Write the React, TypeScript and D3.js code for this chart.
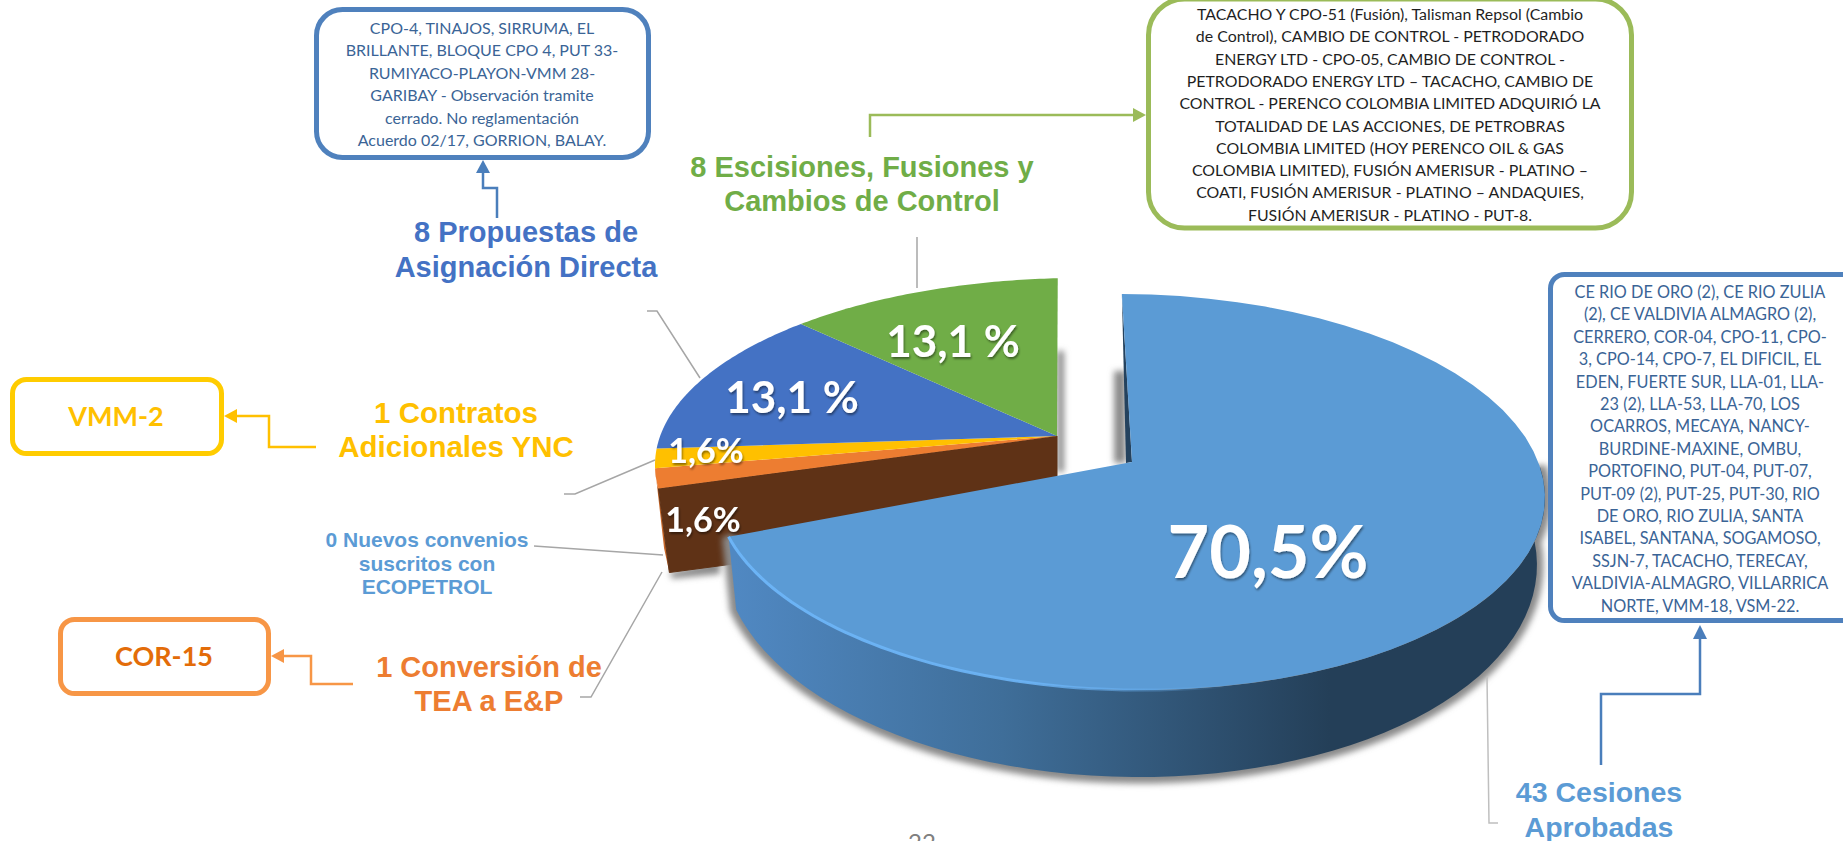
import React from "react";
import * as d3 from "d3";

// slice data, in drawing order (clockwise from the top of the big slice)
const categories = ["Cesiones Aprobadas", "Conversión de TEA a E&P", "Contratos Adicionales YNC", "Propuestas de Asignación Directa", "Escisiones, Fusiones y Cambios de Control", "Nuevos convenios suscritos con ECOPETROL"];
const counts = [43, 1, 1, 8, 8, 0];
const sliceColors = ["#5B9BD5", "#ED7D31", "#FFC000", "#4472C4", "#70AD47", "#5B9BD5"];

const blueBoxLines = ["CPO-4, TINAJOS, SIRRUMA, EL", "BRILLANTE, BLOQUE CPO 4, PUT 33-", "RUMIYACO-PLAYON-VMM 28-", "GARIBAY - Observación tramite", "cerrado. No reglamentación", "Acuerdo 02/17, GORRION, BALAY."];
const greenBoxLines = ["TACACHO Y CPO-51 (Fusión), Talisman Repsol (Cambio", "de Control), CAMBIO DE CONTROL - PETRODORADO", "ENERGY LTD - CPO-05, CAMBIO DE CONTROL -", "PETRODORADO ENERGY LTD – TACACHO, CAMBIO DE", "CONTROL - PERENCO COLOMBIA LIMITED ADQUIRIÓ LA", "TOTALIDAD DE LAS ACCIONES, DE PETROBRAS", "COLOMBIA LIMITED (HOY PERENCO OIL & GAS", "COLOMBIA LIMITED), FUSIÓN AMERISUR - PLATINO –", "COATI, FUSIÓN AMERISUR - PLATINO – ANDAQUIES,", "FUSIÓN AMERISUR - PLATINO - PUT-8."];
const rightBoxLines = ["CE RIO DE ORO (2), CE RIO ZULIA", "(2), CE VALDIVIA ALMAGRO (2),", "CERRERO, COR-04, CPO-11, CPO-", "3, CPO-14, CPO-7, EL DIFICIL, EL", "EDEN, FUERTE SUR, LLA-01, LLA-", "23 (2), LLA-53, LLA-70, LOS", "OCARROS, MECAYA, NANCY-", "BURDINE-MAXINE, OMBU,", "PORTOFINO, PUT-04, PUT-07,", "PUT-09 (2), PUT-25, PUT-30, RIO", "DE ORO, RIO ZULIA, SANTA", "ISABEL, SANTANA, SOGAMOSO,", "SSJN-7, TACACHO, TERECAY,", "VALDIVIA-ALMAGRO, VILLARRICA", "NORTE, VMM-18, VSM-22."];

const deg = Math.PI / 180;
const ARIAL = "'Liberation Sans', Arial, sans-serif";
const BODY = "Lato, 'Open Sans', sans-serif";

type Ell = { cx: number; cy: number; rx: number; ry: number; offset: number; warp: number; tilt: number };

// the pie is a flattened circle in perspective, so angles get nudged a bit
const bigTop: Ell = { cx: 1130, cy: 492, rx: 415, ry: 198, offset: -1.6 * deg, warp: -2.8 * deg, tilt: 1 * deg };
const bigBottom: Ell = { cx: 1130, cy: 560, rx: 407, ry: 217, offset: -1.6 * deg, warp: -2.8 * deg, tilt: 1 * deg };
const restTop: Ell = { cx: 1080, cy: 465, rx: 425, ry: 187, offset: -3 * deg, warp: -12.5 * deg, tilt: 0 };
const bigApex: [number, number] = [1132, 462];
const restApex: [number, number] = [1057, 436];
const restDepth: [number, number] = [11, 84];

const pt = (e: Ell, a: number): [number, number] => {
  const w = a + e.offset + e.warp * Math.sin(a);
  const x0 = e.rx * Math.sin(w);
  const y0 = -e.ry * Math.cos(w);
  return [
    e.cx + x0 * Math.cos(e.tilt) - y0 * Math.sin(e.tilt),
    e.cy + x0 * Math.sin(e.tilt) + y0 * Math.cos(e.tilt),
  ];
};
const arcPts = (e: Ell, a0: number, a1: number) =>
  d3.range(0, 61).map((i) => pt(e, a0 + ((a1 - a0) * i) / 60));

const line = d3.line();
const closed = (pts: [number, number][]) => line(pts) + "Z";
const shift = (p: [number, number], d: [number, number]): [number, number] => [p[0] + d[0], p[1] + d[1]];

const arcs = d3.pie<number>().sort(null).startAngle(0).endAngle(2 * Math.PI)(counts);

const bigArc = arcs[0];
const orangeArc = arcs[1];
const bigWall = closed([
  ...arcPts(bigTop, 85 * deg, bigArc.endAngle),
  ...arcPts(bigBottom, bigArc.endAngle, 85 * deg),
]);
const orangeStart = pt(restTop, orangeArc.startAngle);

function Lines({ lines, x, y, step, size, fill, family = ARIAL, weight = "bold" }: any) {
  return (
    <text textAnchor="middle" fontFamily={family} fontWeight={weight} fontSize={size} fill={fill}>
      {lines.map((l: string, i: number) => (
        <tspan key={i} x={x} y={y + i * step}>{l}</tspan>
      ))}
    </text>
  );
}

function Arrow({ points, color, width = 2.5, head = 13, half = 7 }: any) {
  // elbow connector; last point is the arrow tip
  const n = points.length;
  const tip = points[n - 1];
  const prev = points[n - 2];
  const len = Math.hypot(tip[0] - prev[0], tip[1] - prev[1]);
  const ux = (tip[0] - prev[0]) / len;
  const uy = (tip[1] - prev[1]) / len;
  const base = [tip[0] - ux * head, tip[1] - uy * head];
  const headPts: [number, number][] = [
    tip,
    [base[0] - uy * half, base[1] + ux * half],
    [base[0] + uy * half, base[1] - ux * half],
  ];
  return (
    <g>
      <path d={line([...points.slice(0, n - 1), base]) as string} fill="none" stroke={color} strokeWidth={width} />
      <path d={closed(headPts)} fill={color} />
    </g>
  );
}

function Leader({ points, color = "#a6a6a6" }: any) {
  return <path d={line(points) as string} fill="none" stroke={color} strokeWidth={1.5} />;
}

function Pct({ text, x, y, size }: any) {
  return (
    <text x={x} y={y} textAnchor="middle" fontFamily={BODY} fontWeight="bold" fontSize={size} fill="#fff" filter="url(#textShadow)">
      {text}
    </text>
  );
}

export default function App() {
  return (
    <svg width={1843} height={841} style={{ position: "absolute", left: 0, top: 0, background: "#fff" }}>
      <defs>
        <filter id="blur" x="-20%" y="-20%" width="140%" height="140%">
          <feGaussianBlur stdDeviation={3} />
        </filter>
        <filter id="textShadow" x="-10%" y="-10%" width="120%" height="130%">
          <feDropShadow dx={1} dy={2} stdDeviation={1.2} floodColor="#000" floodOpacity={0.45} />
        </filter>
        <linearGradient id="wallFill" gradientUnits="userSpaceOnUse" x1={735} x2={1330} y1={0} y2={0}>
          <stop offset="0" stopColor="#5088c2" />
          <stop offset="0.45" stopColor="#3f6e99" />
          <stop offset="1" stopColor="#243f58" />
        </linearGradient>
        <linearGradient id="rimFill" gradientUnits="userSpaceOnUse" x1={730} x2={1230} y1={0} y2={0}>
          <stop offset="0" stopColor="#6cb4f6" stopOpacity={1} />
          <stop offset="0.6" stopColor="#6cb4f6" stopOpacity={0.9} />
          <stop offset="1" stopColor="#6cb4f6" stopOpacity={0} />
        </linearGradient>
      </defs>

      {/* shadows behind the small slices */}
      <g filter="url(#blur)" fill="#8a8a8a">
        <path d={closed([[1057, 351], [1064, 351], [1064, 472], [1057, 472]])} />
        <path d={closed([[1114, 371], [1126, 371], [1126, 463], [1114, 463]])} />
        <path d={closed([shift(orangeStart, restDepth), shift(orangeStart, [14, 90]), [720, 574], [720, 560]])} />
      </g>

      {/* side of the small slices */}
      <path
        d={closed([
          ...arcPts(restTop, orangeArc.startAngle, orangeArc.endAngle),
          shift(pt(restTop, orangeArc.endAngle), [9, 80]),
          shift(orangeStart, restDepth),
        ])}
        fill="#c8682a"
      />
      <path
        d={closed([restApex, orangeStart, shift(orangeStart, restDepth), shift(restApex, [0, 85])])}
        fill="#5F3216"
        stroke="#5F3216"
        strokeLinejoin="round"
      />

      {arcs.slice(1).filter((a) => a.value > 0).map((a, i) => (
        <path
          key={categories[i + 1]}
          d={closed([restApex, ...arcPts(restTop, a.startAngle, a.endAngle)])}
          fill={sliceColors[i + 1]}
        />
      ))}

      {/* big slice */}
      <path d={bigWall} fill="#7d7d7d" stroke="#8a8a8a" strokeWidth={13} filter="url(#blur)" />
      <path d={bigWall} fill="url(#wallFill)" />
      <path d={closed([pt(bigTop, 0), bigApex, [1126, 463]])} fill="#24425e" />
      <path
        d={closed([bigApex, ...arcPts(bigTop, bigArc.startAngle, bigArc.endAngle)])}
        fill={sliceColors[0]}
      />
      <path
        d={line(arcPts(bigTop, 160 * deg, bigArc.endAngle)) as string}
        fill="none"
        stroke="url(#rimFill)"
        strokeWidth={3}
      />

      <Pct text="70,5%" x={1268} y={578} size={72} />
      <Pct text="13,1 %" x={953} y={357} size={44} />
      <Pct text="13,1 %" x={792} y={413} size={44} />
      <Pct text="1,6%" x={706} y={463} size={34} />
      <Pct text="1,6%" x={703} y={532} size={34} />

      {/* leader lines */}
      <Leader points={[[917, 237], [917, 288]]} />
      <Leader points={[[647, 311], [657, 311], [700, 378]]} />
      <Leader points={[[564, 494], [575, 494], [655, 460]]} />
      <Leader points={[[534, 546], [663, 555]]} />
      <Leader points={[[580, 697], [591, 697], [662, 572]]} />
      <Leader points={[[1487, 677], [1489, 823], [1498, 823]]} color="#bfbfbf" />

      {/* category titles */}
      <Lines lines={["8 Escisiones, Fusiones y", "Cambios de Control"]} x={862} y={177} step={34} size={29} fill="#70AD47" />
      <Lines lines={["8 Propuestas de", "Asignación Directa"]} x={526} y={242} step={35} size={29} fill="#4472C4" />
      <Lines lines={["1 Contratos", "Adicionales YNC"]} x={456} y={423} step={34} size={29.5} fill="#FFC000" />
      <Lines lines={["0 Nuevos convenios", "suscritos con"]} x={427} y={547} step={24} size={21} fill="#5B9BD5" />
      <Lines lines={["ECOPETROL"]} x={427} y={594} step={0} size={21} fill="#5B9BD5" />
      <Lines lines={["1 Conversión de", "TEA a E&P"]} x={489} y={677} step={34} size={29} fill="#ED7D31" />
      <Lines lines={["43 Cesiones", "Aprobadas"]} x={1599} y={802} step={35} size={28.5} fill="#5B9BD5" />

      {/* boxes */}
      <rect x={316.5} y={9.5} width={332} height={148} rx={26} fill="#fff" stroke="#4F81BD" strokeWidth={5} />
      <Lines lines={blueBoxLines} x={482} y={34} step={22.4} size={16} fill="#3A6496" family={BODY} weight="normal" />

      <rect x={1148.5} y={-1} width={483} height={229} rx={36} fill="#fff" stroke="#9BBB59" strokeWidth={5} />
      <Lines lines={greenBoxLines} x={1390} y={20} step={22.3} size={15.9} fill="#1f1f1f" family={BODY} weight="normal" />

      <rect x={1550.5} y={274.5} width={320} height={346} rx={14} fill="#fff" stroke="#4F81BD" strokeWidth={5} />
      <Lines lines={rightBoxLines} x={1700} y={298} step={22.4} size={16.3} fill="#3A6496" family={BODY} weight="normal" />

      <rect x={12.5} y={379.5} width={209} height={74} rx={14} fill="#fff" stroke="#FFCC00" strokeWidth={5} />
      <Lines lines={["VMM-2"]} x={116} y={426} step={0} size={27} fill="#FFC000" family={BODY} />

      <rect x={60.5} y={619.5} width={208} height={74} rx={14} fill="#fff" stroke="#F79646" strokeWidth={5} />
      <Lines lines={["COR-15"]} x={164} y={666} step={0} size={27} fill="#E36C09" family={BODY} />

      {/* connectors */}
      <Arrow points={[[497, 218], [497, 188], [483, 188], [483, 160]]} color="#4A7EBB" />
      <Arrow points={[[870, 137], [870, 115], [1146, 115]]} color="#9BBB59" />
      <Arrow points={[[1601, 765], [1601, 694], [1700, 694], [1700, 625]]} color="#4A7EBB" head={14} />
      <Arrow points={[[316, 447], [269, 447], [269, 416], [224, 416]]} color="#FFC000" />
      <Arrow points={[[353, 684], [311, 684], [311, 656], [271, 656]]} color="#F79646" />

      <text x={922} y={851} textAnchor="middle" fontFamily={BODY} fontSize={24} fill="#7f7f7f">22</text>
    </svg>
  );
}
